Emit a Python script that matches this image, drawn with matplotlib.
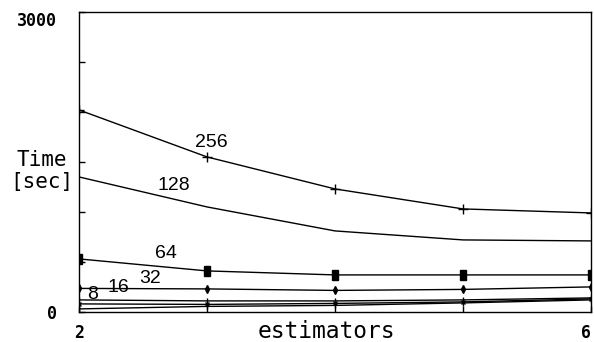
"""Recreate the estimators vs. time chart."""
import matplotlib
matplotlib.use("Agg")
import matplotlib.pyplot as plt
from matplotlib.markers import MarkerStyle
from matplotlib.transforms import Affine2D

estimators = [2, 3, 4, 5, 6]
t256 = [2020, 1550, 1230, 1030, 990]
t128 = [1350, 1050, 810, 720, 710]
t64 = [530, 410, 370, 370, 370]
t32 = [235, 230, 215, 225, 250]
t16 = [120, 110, 110, 120, 140]
t8 = [80, 75, 85, 100, 130]
t4 = [30, 55, 65, 90, 120]

series_names = ["256", "128", "64", "32", "16", "8"]
label_pos = [(2.91, 1690), (2.61, 1260), (2.59, 580), (2.47, 330), (2.22, 240), (2.06, 175)]

fig = plt.figure(figsize=(5.94, 3.42), dpi=100)
ax = fig.add_axes([0.133, 0.088, 0.862, 0.877])

rect = MarkerStyle("s", transform=Affine2D().scale(0.7, 1.25))
ax.plot(estimators, t256, color="black", lw=1, marker="+", ms=7, mew=1)
ax.plot(estimators, t128, color="black", lw=1)
ax.plot(estimators, t64, color="black", lw=1, marker=rect, ms=6)
ax.plot(estimators, t32, color="black", lw=1, marker="d", ms=4)
ax.plot(estimators, t16, color="black", lw=1, marker="|", ms=5)
ax.plot(estimators, t8, color="black", lw=1, marker="x", ms=3)
ax.plot(estimators, t4, color="black", lw=1, marker="|", ms=4)

for name, (x, y) in zip(series_names, label_pos):
    ax.text(x, y, name, fontsize=14, family="Liberation Sans", ha="left", va="center")

ax.set_xlim(2, 6)
ax.set_ylim(0, 3000)
ax.set_xticks([2, 6])
ax.set_xticks([3, 4, 5], minor=True)
ax.set_yticks([0, 3000])
ax.set_yticks([500, 1000, 1500, 2000, 2500], minor=True)
ax.tick_params(which="both", direction="in", length=4, width=1)
ax.tick_params(axis="both", labelsize=12)
ax.tick_params(axis="y", pad=16)
ax.tick_params(axis="x", pad=9)
for lab in ax.get_xticklabels() + ax.get_yticklabels():
    lab.set_family("DejaVu Sans Mono")
    lab.set_fontweight("bold")
ax.get_yticklabels()[1].set_va("top")
ax.get_xticklabels()[1].set_ha("right")

fig.text(0.549, 0.032, "estimators", family="DejaVu Sans Mono", fontsize=16.5,
         ha="center", va="center")
fig.text(0.07, 0.5, "Time\n[sec]", family="DejaVu Sans Mono", fontsize=15,
         ha="center", va="center", linespacing=1.1)

for s in ax.spines.values():
    s.set_linewidth(1)

fig.savefig("out.png", dpi=100)
